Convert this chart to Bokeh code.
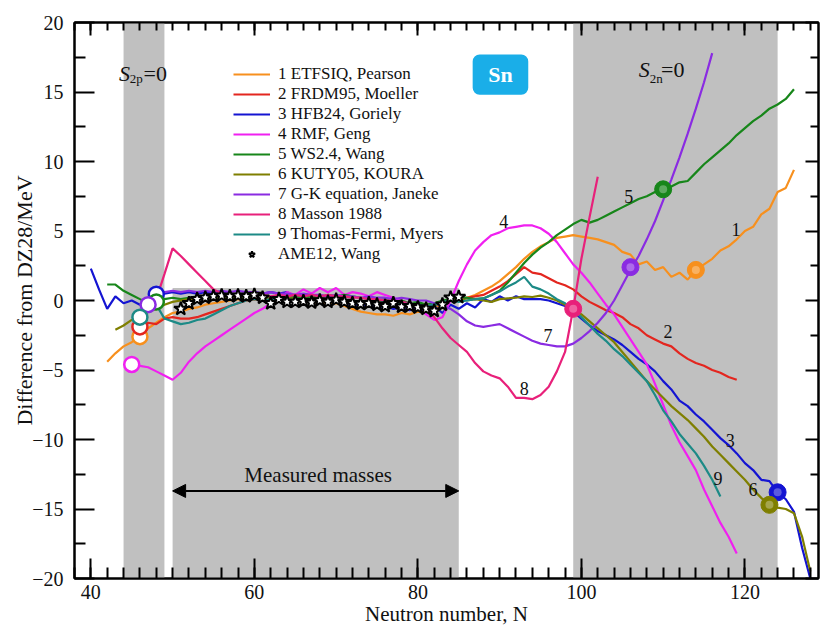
from bokeh.plotting import figure
from bokeh.models import (Range1d, LinearAxis, Legend, LegendItem, Arrow, NormalHead,
                          Label, BoxAnnotation, FixedTicker)
from bokeh.core.properties import value
from bokeh.embed import file_html
from bokeh.resources import INLINE

FONT = "Liberation Serif"

# ---------------- data ----------------
names = ["1 ETFSIQ, Pearson", "2 FRDM95, Moeller", "3 HFB24, Goriely", "4 RMF, Geng",
         "5 WS2.4, Wang", "6 KUTY05, KOURA", "7 G-K equation, Janeke", "8 Masson 1988",
         "9 Thomas-Fermi, Myers"]
colors = ["#f7901e", "#e3261f", "#1414d2", "#f020f0", "#17861a", "#7f7f00", "#8a2be2",
          "#e8207a", "#1c8a86"]

etfsiq_N0 = 42
etfsiq = [-4.4, -3.8, -3.3, -3.0, -2.6, -2.0, -1.6, -1.2, -0.9, -0.8,
          -0.6, -0.5, -0.3, -0.2, -0.1, 0.0, 0.1, 0.0, 0.1, 0.0,
          0.1, -0.1, 0.0, -0.1, 0.0, -0.2, -0.1, -0.3, -0.2, -0.4,
          -0.6, -0.8, -0.9, -1.0, -1.0, -1.1, -0.9, -1.0, -0.8, -0.9,
          -0.6, -0.3, 0.0, 0.1, 0.2, 0.4, 0.7, 1.0, 1.4, 1.9,
          2.4, 3.0, 3.5, 3.9, 4.2, 4.5, 4.6, 4.7, 4.6, 4.5,
          4.4, 4.2, 4.0, 3.5, 3.3, 2.6, 2.8, 2.2, 2.4, 1.7,
          2.0, 1.5, 2.2, 2.6, 3.0, 3.6, 3.9, 4.4, 5.0, 5.3,
          6.2, 6.6, 7.8, 8.1, 9.4]

frdm95_N0 = 46
frdm95 = [-1.9, -1.6, -1.7, -1.3, -1.2, -1.3, -1.3, -1.2, -1.0, -0.8,
          -0.6, -0.4, -0.2, 0.0, 0.1, 0.0, 0.2, 0.1, 0.2, 0.1,
          0.2, 0.0, 0.1, 0.0, 0.1, -0.1, 0.0, -0.2, -0.1, -0.3,
          -0.2, -0.3, -0.2, -0.4, -0.3, -0.5, -0.4, -0.2, 0.0, 0.1,
          0.2, 0.3, 0.4, 0.7, 1.0, 1.4, 1.9, 2.4, 2.0, 1.9,
          1.6, 1.3, 1.1, 0.8, 0.3, -0.1, -0.4, -0.7, -0.9, -1.2,
          -1.7, -2.0, -2.5, -2.8, -3.1, -3.3, -3.8, -4.2, -4.5, -4.7,
          -5.0, -5.2, -5.5, -5.7]

hfb24_N0 = 40
hfb24 = [2.3, 0.8, -0.6, 0.3, -0.2, 0.0, -0.3, -0.4, 0.4, 0.5,
         0.6, 0.5, 0.6, 0.5, 0.6, 0.5, 0.6, 0.4, 0.5, 0.4,
         0.6, 0.5, 0.6, 0.5, 0.6, 0.3, 0.2, 0.0, 0.1, -0.1,
         0.0, -0.2, -0.3, -0.4, -0.3, -0.5, -0.4, -0.6, -0.5, -0.7,
         -0.5, -0.9, -0.4, -0.9, -0.3, -0.6, -0.2, -0.5, 0.1, -0.1,
         0.3, 0.0, 0.3, 0.1, 0.1, 0.1, 0.0, -0.2, -0.4, -0.8,
         -1.3, -1.8, -2.2, -2.5, -2.8, -3.2, -3.7, -4.2, -4.6, -5.1,
         -5.8, -6.4, -7.2, -7.6, -8.2, -8.7, -9.3, -9.9, -10.4, -11.0,
         -11.7, -12.2, -12.9, -13.0, -13.8, -14.3, -15.2, -17.8, -20.0]

rmf_N0 = 45
rmf = [-4.6, -4.7, -4.8, -5.1, -5.4, -5.7, -5.2, -4.4, -3.8, -3.3,
       -2.9, -2.5, -2.1, -1.7, -1.3, -0.9, -0.6, -0.2, 0.1, 0.6,
       0.4, 0.8, 0.5, 0.9, 0.6, 0.9, 0.4, 0.6, 0.5, 0.3,
       0.6, 0.4, 0.2, 0.0, -0.3, -0.6, -1.0, -1.4, -1.2, 0.0,
       1.4, 2.6, 3.6, 4.2, 4.7, 4.9, 5.2, 5.3, 5.4, 5.4,
       5.2, 4.8, 4.2, 3.4, 2.6, 2.0, 1.3, 0.5, -0.3, -1.0,
       -1.9, -2.8, -3.7, -4.6, -6.0, -7.5, -9.0, -10.2, -11.2, -12.2,
       -13.6, -14.8, -16.0, -17.0, -18.2]

ws24_N0 = 42
ws24 = [1.15, 1.15, 0.7, 0.4, 0.1, -0.2, -0.1, 0.1, 0.2, 0.1,
        0.2, 0.3, 0.2, 0.3, 0.2, 0.3, 0.2, 0.3, 0.2, 0.3,
        0.2, 0.3, 0.2, 0.3, 0.2, 0.3, 0.2, 0.4, 0.3, 0.4,
        0.3, 0.2, 0.1, 0.0, 0.1, -0.1, 0.0, -0.2, -0.1, -0.3,
        -0.2, 0.0, 0.1, 0.2, 0.2, 0.1, 0.15, 0.4, 0.7, 1.3,
        2.0, 2.7, 3.3, 3.8, 4.2, 4.7, 5.1, 5.5, 5.8, 5.6,
        5.8, 6.1, 6.4, 6.7, 7.0, 7.3, 7.5, 7.8, 8.0, 8.2,
        8.5, 8.6, 9.2, 9.8, 10.3, 10.8, 11.3, 11.9, 12.4, 12.9,
        13.3, 13.8, 14.1, 14.5, 15.2]

kuty05_N0 = 43
kuty05 = [-2.1, -1.8, -1.4, -1.2, -0.8, -0.6, -0.3, -0.1, 0.0, 0.1,
          0.1, 0.2, 0.1, 0.2, 0.1, 0.2, 0.1, 0.2, 0.1, 0.2,
          0.1, 0.2, 0.1, 0.0, 0.1, 0.0, 0.1, 0.0, -0.1, 0.0,
          -0.1, -0.2, -0.1, -0.2, -0.3, -0.2, -0.3, -0.4, -0.3, -0.4,
          -0.2, 0.0, 0.1, 0.0, 0.1, 0.0, -0.1, 0.1, 0.15, 0.2,
          0.3, 0.25, 0.35, 0.2, 0.0, -0.3, -0.6, -1.0, -1.5, -2.0,
          -2.5, -3.0, -3.7, -4.4, -5.1, -5.8, -6.4, -7.0, -7.6, -8.1,
          -8.6, -9.2, -9.8, -10.5, -11.1, -11.7, -12.3, -12.9, -13.6, -14.2,
          -14.7, -14.9, -15.0, -15.3, -17.0, -19.5]

gk_N0 = 47
gk = [-0.3, 0.4, 0.6, 0.7, 0.6, 0.7, 0.6, 0.7, 0.6, 0.7,
      0.6, 0.7, 0.6, 0.6, 0.5, 0.6, 0.5, 0.5, 0.4, 0.5,
      0.4, 0.4, 0.3, 0.4, 0.3, 0.3, 0.2, 0.3, 0.2, 0.2,
      0.1, 0.2, 0.1, 0.0, 0.0, -0.2, -0.4, -0.6, -1.0, -1.5,
      -1.8, -1.9, -1.8, -1.7, -2.0, -2.3, -2.6, -2.9, -3.1, -3.2,
      -3.3, -3.3, -3.1, -2.7, -2.2, -1.6, -0.9, 0.0, 1.1, 2.2,
      3.2, 4.4, 5.7, 7.2, 8.7, 10.3, 12.0, 13.8, 15.7, 17.8]

masson_N0 = 48
masson = [0.1, 1.9, 3.75, 3.2, 2.6, 2.0, 1.4, 0.8, 0.5, 0.4,
          0.3, 0.4, 0.3, 0.4, 0.3, 0.4, 0.3, 0.4, 0.3, 0.4,
          0.3, 0.4, 0.3, 0.3, 0.2, 0.2, 0.1, 0.1, 0.0, 0.0,
          -0.1, -0.2, -0.3, -0.6, -1.2, -2.0, -2.7, -3.2, -3.7, -4.5,
          -5.1, -5.4, -5.6, -6.2, -7.0, -7.0, -7.1, -6.8, -6.2, -5.1,
          -3.7, -0.6, 3.0, 6.0, 8.9]

tf_N0 = 46
tf = [-1.2, -0.6, -0.3, -1.3, -1.5, -1.7, -1.6, -1.4, -1.3, -1.0,
      -0.7, -0.4, -0.2, 0.0, 0.1, 0.0, 0.1, 0.0, 0.1, 0.0,
      0.1, 0.0, 0.1, 0.0, -0.1, 0.0, -0.1, -0.2, -0.1, -0.2,
      -0.1, -0.2, -0.3, -0.2, -0.3, -0.4, -0.3, -0.1, 0.0, -0.1,
      0.0, 0.1, 0.15, 0.4, 0.65, 1.0, 1.3, 1.7, 1.0, 0.8,
      0.5, 0.1, -0.2, -0.7, -1.2, -1.8, -2.4, -2.9, -3.5, -4.0,
      -4.6, -5.2, -5.8, -6.8, -7.9, -8.7, -9.6, -10.3, -11.0, -11.9,
      -12.9, -14.1]

ame12_N0 = 51
ame12 = [-0.6, -0.2, 0.1, 0.2, 0.3, 0.35, 0.3, 0.35, 0.3, 0.4,
         0.2, -0.2, 0.1, -0.1, -0.1, -0.05, -0.15, 0.0, -0.1, 0.05,
         -0.1, -0.2, -0.25, -0.2, -0.3, -0.4, -0.2, -0.45, -0.4, -0.5,
         -0.6, -0.75, -0.3, 0.2, 0.25]

# proton drip line (S2p = 0) points, open circles: series index, N, value
drip_p_series = [0, 1, 2, 3, 4, 6, 8]
drip_p_N = [46, 46, 48, 45, 48, 47, 46]
drip_p_val = [-2.6, -1.9, 0.45, -4.6, -0.1, -0.3, -1.2]

# neutron drip line (S2n = 0) points, filled balls
drip_n_series = [0, 2, 4, 5, 6, 7]
drip_n_N = [114, 124, 110, 123, 106, 99]
drip_n_val = [2.2, -13.8, 8.0, -14.7, 2.4, -0.6]

series_N0 = [etfsiq_N0, frdm95_N0, hfb24_N0, rmf_N0, ws24_N0, kuty05_N0, gk_N0, masson_N0, tf_N0]
series_vals = [etfsiq, frdm95, hfb24, rmf, ws24, kuty05, gk, masson, tf]

# curve number labels: text, N, value
num_text = ["1", "2", "3", "4", "5", "6", "7", "8", "9"]
num_N = [118.9, 110.6, 118.2, 90.5, 105.8, 121.0, 95.9, 93.0, 116.7]
num_val = [5.1, -2.2, -10.1, 5.7, 7.5, -13.6, -2.5, -6.3, -12.8]

# shaded regions (N ranges)
band_p = (44, 49)
band_measured = (50, 85, 0.9)
band_n = (99, 124)

x_ticks = [40, 60, 80, 100, 120]
y_ticks = [-20, -15, -10, -5, 0, 5, 10, 15, 20]

# ---------------- figure ----------------
p = figure(frame_width=744, frame_height=556, x_range=Range1d(38, 129), y_range=Range1d(-20, 20),
           output_backend="svg", toolbar_location=None,
           min_border_left=74, min_border_right=2, min_border_top=22, min_border_bottom=52)
p.grid.visible = False
p.outline_line_color = "black"
p.outline_line_width = 2
p.background_fill_color = "white"
p.border_fill_color = "white"

for lo, hi in [band_p, band_n]:
    p.add_layout(BoxAnnotation(left=lo, right=hi, fill_color="#c0c0c0", fill_alpha=1,
                               line_color=None, level="underlay"))
p.add_layout(BoxAnnotation(left=band_measured[0], right=band_measured[1], top=band_measured[2],
                           fill_color="#c0c0c0", fill_alpha=1, line_color=None, level="underlay"))

line_renderers = []
for i in range(9):
    xs = list(range(series_N0[i], series_N0[i] + len(series_vals[i])))
    r = p.line(xs, series_vals[i], line_color=colors[i], line_width=2.2)
    line_renderers.append(r)

ame_x = list(range(ame12_N0, ame12_N0 + len(ame12)))
star_r = p.scatter(ame_x, ame12, marker="star", size=14, fill_color="white", line_color="black",
                   line_width=2)

# open circles
p.scatter(drip_p_N, drip_p_val, marker="circle", size=15, fill_color="white",
          line_color=[colors[i] for i in drip_p_series], line_width=2.5)

# filled balls with soft highlight
p.scatter(drip_n_N, drip_n_val, marker="circle", size=17,
          fill_color=[colors[i] for i in drip_n_series],
          line_color=[colors[i] for i in drip_n_series], line_width=1)
p.scatter(drip_n_N, drip_n_val, marker="circle", size=8, fill_color="white", fill_alpha=0.3,
          line_color=None)

# curve numbers
p.text(num_N, num_val, text=num_text, text_font=value(FONT), text_font_size="18px",
       text_color="#111111", text_align="center", text_baseline="middle")

# measured masses arrow
p.add_layout(Arrow(x_start=band_measured[0], x_end=band_measured[1], y_start=-13.7, y_end=-13.7,
                   line_width=2, line_color="black",
                   start=NormalHead(size=13, fill_color="black", line_color="black"),
                   end=NormalHead(size=13, fill_color="black", line_color="black")))
p.add_layout(Label(x=67.8, y=-12.55, text="Measured masses", text_font=FONT, text_font_size="21px",
                   text_align="center", text_baseline="middle", text_color="#111111"))

# S2p=0 and S2n=0
def s_label(x0, yb):
    p.add_layout(Label(x=x0, y=yb, text="S", text_font=FONT, text_font_style="italic",
                       text_font_size="22px", text_align="left", text_baseline="alphabetic",
                       text_color="#111111"))
s_label(43.45, 16.33)
p.add_layout(Label(x=44.75, y=15.95, text="2p", text_font=FONT, text_font_size="13px",
                   text_align="left", text_baseline="alphabetic", text_color="#111111"))
p.add_layout(Label(x=46.45, y=16.33, text="=0", text_font=FONT, text_font_size="22px",
                   text_align="left", text_baseline="alphabetic", text_color="#111111"))
s_label(107.0, 16.6)
p.add_layout(Label(x=108.35, y=15.97, text="2n", text_font=FONT, text_font_size="13px",
                   text_align="left", text_baseline="alphabetic", text_color="#111111"))
p.add_layout(Label(x=109.75, y=16.6, text="=0", text_font=FONT, text_font_size="22px",
                   text_align="left", text_baseline="alphabetic", text_color="#111111"))

# Sn tag
p.quad(left=[86.7], right=[93.5], bottom=[14.8], top=[17.7], fill_color="#1aaee8",
       line_color=None, border_radius=7)
p.text([90.1], [16.25], text=["Sn"], text_font=value(FONT), text_font_style="bold",
       text_font_size="22px", text_color="white", text_align="center", text_baseline="middle")

# axes
p.xaxis.ticker = FixedTicker(ticks=x_ticks, minor_ticks=list(range(38, 130, 2)))
p.yaxis.ticker = FixedTicker(ticks=y_ticks,
                             minor_ticks=[-17.5, -12.5, -7.5, -2.5, 2.5, 7.5, 12.5, 17.5])
for ax in [p.xaxis[0], p.yaxis[0]]:
    ax.axis_line_width = 2
    ax.major_tick_in = 20
    ax.major_tick_out = 0
    ax.minor_tick_in = 11
    ax.minor_tick_out = 0
    ax.major_tick_line_width = 2
    ax.minor_tick_line_width = 2
    ax.major_label_text_font = FONT
    ax.major_label_text_font_size = "20px"
    ax.major_label_text_color = "#111111"
    ax.axis_label_text_font = FONT
    ax.axis_label_text_font_style = "normal"
    ax.axis_label_text_color = "#111111"
p.yaxis.major_label_standoff = 11
p.xaxis.major_label_standoff = 6
p.yaxis.axis_label = "Difference from DZ28/MeV"
p.yaxis.axis_label_text_font_size = "22px"
p.yaxis.axis_label_standoff = -8
p.xaxis.axis_label = "Neutron number, N"
p.xaxis.axis_label_text_font_size = "21px"
p.xaxis.axis_label_standoff = 0

for loc, tick in [("above", p.xaxis[0].ticker), ("right", p.yaxis[0].ticker)]:
    ax = LinearAxis(ticker=tick)
    ax.axis_line_width = 2
    ax.major_tick_in = 13
    ax.major_tick_out = 0
    ax.minor_tick_in = 8
    ax.minor_tick_out = 0
    ax.major_tick_line_width = 2
    ax.minor_tick_line_width = 2
    ax.major_label_text_color = None
    ax.major_label_text_font_size = "0px"
    ax.major_label_standoff = 0
    p.add_layout(ax, loc)

# legend
items = [LegendItem(label=names[i], renderers=[line_renderers[i]]) for i in range(9)]
items.append(LegendItem(label="AME12, Wang", renderers=[star_r]))
legend = Legend(items=items, location=(159, 314), label_text_font=FONT, label_text_font_size="17px",
                label_text_line_height=1.0, label_text_color="#111111",
                glyph_width=37, glyph_height=16, label_height=16, spacing=0, padding=0, margin=0,
                label_standoff=8, background_fill_alpha=0, border_line_alpha=0)
p.add_layout(legend)

open("out.html", "w").write(file_html(p, INLINE))
